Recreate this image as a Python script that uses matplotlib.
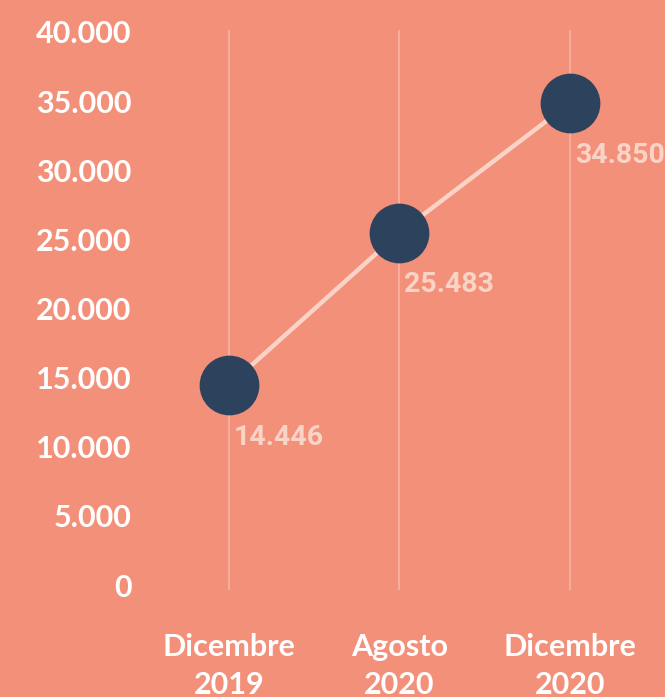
import matplotlib.pyplot as plt
from matplotlib.ticker import FuncFormatter

# data
periods = ['Dicembre\n2019', 'Agosto\n2020', 'Dicembre\n2020']
values = [14446, 25483, 34850]
labels = ['14.446', '25.483', '34.850']
yticks = [0, 5000, 10000, 15000, 20000, 25000, 30000, 35000, 40000]

bg = '#F3907A'
navy = '#2D425C'
pink = '#FAD3C7'

fig = plt.figure(figsize=(6.65, 6.97), dpi=100, facecolor=bg)
ax = fig.add_axes([0.2165, 0.1535, 0.7685, 0.8035])
ax.set_facecolor(bg)

x = list(range(len(values)))
for xi in x:
    ax.axvline(xi, color='#F6AD9B', lw=1.5, zorder=0)

ax.plot(x, values, color=pink, lw=3.2, zorder=2)
ax.plot(x, values, 'o', ms=42, color=navy, zorder=3)

for xi, v, lab in zip(x, values, labels):
    ax.annotate(lab, (xi, v), xytext=(5, -52), textcoords='offset pixels',
                ha='left', va='center', color=pink, fontsize=20.5,
                fontweight='bold', family=['Roboto', 'DejaVu Sans'])

ax.set_xlim(-0.5, 2.5)
ax.set_ylim(-360, 40145)
ax.set_xticks(x)
ax.set_xticklabels(periods, linespacing=1.45)
ax.set_yticks(yticks)
ax.yaxis.set_major_formatter(FuncFormatter(lambda v, p: f'{int(v):,}'.replace(',', '.')))

for lab in ax.get_xticklabels() + ax.get_yticklabels():
    lab.set_family(['Lato', 'DejaVu Sans'])
    lab.set_fontweight('bold')
    lab.set_fontsize(22)
    lab.set_color('white')

ax.tick_params(axis='both', length=0)
ax.tick_params(axis='x', pad=31)
ax.tick_params(axis='y', pad=9)
for s in ax.spines.values():
    s.set_visible(False)

fig.savefig('out.png', dpi=100, facecolor=bg)
